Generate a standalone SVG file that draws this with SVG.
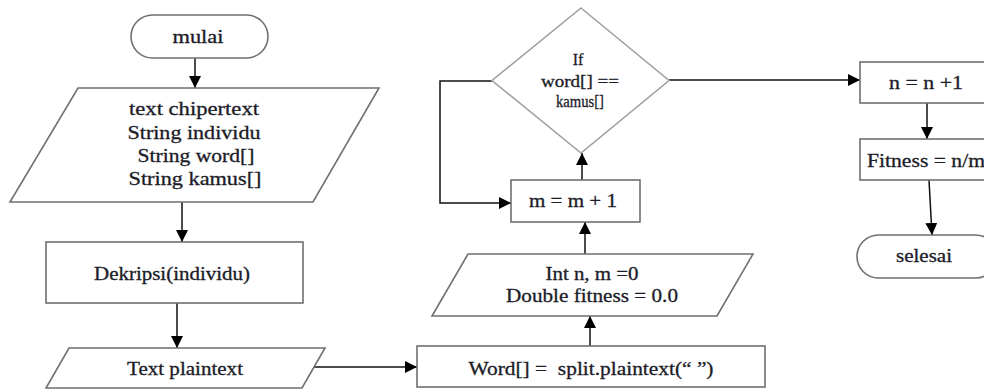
<svg xmlns="http://www.w3.org/2000/svg" width="984" height="389" viewBox="0 0 984 389">
  <style>
    .box { fill: #ffffff; stroke: #707070; stroke-width: 1.6; }
    .dia { fill: #ffffff; stroke: #a0a0a0; stroke-width: 1.6; }
    .lbl { font-family: "Liberation Serif", "Times New Roman", serif; font-size: 18px; fill: #1c1c28; stroke: #1c1c28; stroke-width: 0.3; text-anchor: middle; }
    .small { font-size: 16px; }
    .edge { fill: none; stroke: #111111; stroke-width: 1.5; }
  </style>
  <defs>
    <marker id="arrow" markerUnits="userSpaceOnUse" markerWidth="12" markerHeight="12" viewBox="0 0 12 12" refX="12" refY="6" orient="auto">
      <path d="M0,0 L12,6 L0,12 Z" fill="#000000"/>
    </marker>
  </defs>
  <rect width="984" height="389" fill="#ffffff"/>

  <!-- flow lines -->
  <g id="connectors">
    <line class="edge" x1="195" y1="58" x2="195" y2="88" marker-end="url(#arrow)"/>
    <line class="edge" x1="182" y1="202" x2="182" y2="242" marker-end="url(#arrow)"/>
    <line class="edge" x1="177" y1="303" x2="177" y2="348" marker-end="url(#arrow)"/>
    <line class="edge" x1="314" y1="367" x2="417" y2="367" marker-end="url(#arrow)"/>
    <line class="edge" x1="590" y1="346" x2="590" y2="316" marker-end="url(#arrow)"/>
    <line class="edge" x1="585" y1="254" x2="585" y2="222" marker-end="url(#arrow)"/>
    <line class="edge" x1="582" y1="180" x2="582" y2="153" marker-end="url(#arrow)"/>
    <polyline class="edge" points="492,81 440,81 440,203 511,203" marker-end="url(#arrow)"/>
    <line class="edge" x1="669" y1="80" x2="860" y2="80" marker-end="url(#arrow)"/>
    <line class="edge" x1="927" y1="103" x2="927" y2="139" marker-end="url(#arrow)"/>
    <line class="edge" x1="929" y1="180" x2="932" y2="235" marker-end="url(#arrow)"/>
  </g>

  <g id="mulai">
    <rect class="box" x="131" y="15" width="137" height="43" rx="21.5"/>
    <text class="lbl" x="198" y="43" textLength="51" lengthAdjust="spacingAndGlyphs">mulai</text>
  </g>

  <g id="input-vars">
    <polygon class="box" points="78,88 379,88 313,202 10,202"/>
    <text class="lbl" x="194" y="115" textLength="130" lengthAdjust="spacingAndGlyphs">text chipertext</text>
    <text class="lbl" x="194" y="139" textLength="133" lengthAdjust="spacingAndGlyphs">String individu</text>
    <text class="lbl" x="196" y="162" textLength="117" lengthAdjust="spacingAndGlyphs">String word[]</text>
    <text class="lbl" x="195" y="185" textLength="133" lengthAdjust="spacingAndGlyphs">String kamus[]</text>
  </g>

  <g id="dekripsi">
    <rect class="box" x="46" y="242" width="257" height="61"/>
    <text class="lbl" x="172" y="280" textLength="156" lengthAdjust="spacingAndGlyphs">Dekripsi(individu)</text>
  </g>

  <g id="plaintext">
    <polygon class="box" points="69,348 325,348 302,388 46,388"/>
    <text class="lbl" x="185" y="375" textLength="116" lengthAdjust="spacingAndGlyphs">Text plaintext</text>
  </g>

  <g id="split">
    <rect class="box" x="417" y="346" width="348" height="41"/>
    <text class="lbl" x="591" y="375" textLength="245" lengthAdjust="spacingAndGlyphs" xml:space="preserve">Word[] =  split.plaintext(“ ”)</text>
  </g>

  <g id="init">
    <polygon class="box" points="468,254 753,254 717,316 432,316"/>
    <text class="lbl" x="592" y="280" textLength="93" lengthAdjust="spacingAndGlyphs">Int n, m =0</text>
    <text class="lbl" x="592" y="302" textLength="172" lengthAdjust="spacingAndGlyphs">Double fitness = 0.0</text>
  </g>

  <g id="increment-m">
    <rect class="box" x="511" y="180" width="129" height="42"/>
    <text class="lbl" x="573" y="207" textLength="88" lengthAdjust="spacingAndGlyphs">m = m + 1</text>
  </g>

  <g id="decision">
    <polygon class="dia" points="581,8 669,80.5 581,153 492,80.5"/>
    <text class="lbl small" x="578" y="65">If</text>
    <text class="lbl small" x="580" y="87" textLength="78" lengthAdjust="spacingAndGlyphs">word[] ==</text>
    <text class="lbl small" x="580" y="107" textLength="48" lengthAdjust="spacingAndGlyphs">kamus[]</text>
  </g>

  <g id="increment-n">
    <rect class="box" x="860" y="62" width="140" height="41"/>
    <text class="lbl" x="926" y="89" textLength="74" lengthAdjust="spacingAndGlyphs">n = n +1</text>
  </g>

  <g id="fitness">
    <rect class="box" x="860" y="139" width="140" height="41"/>
    <text class="lbl" x="926" y="167" textLength="118" lengthAdjust="spacingAndGlyphs">Fitness = n/m</text>
  </g>

  <g id="selesai">
    <rect class="box" x="857" y="235" width="140" height="43" rx="21.5"/>
    <text class="lbl" x="924" y="262" textLength="56" lengthAdjust="spacingAndGlyphs">selesai</text>
  </g>
</svg>
